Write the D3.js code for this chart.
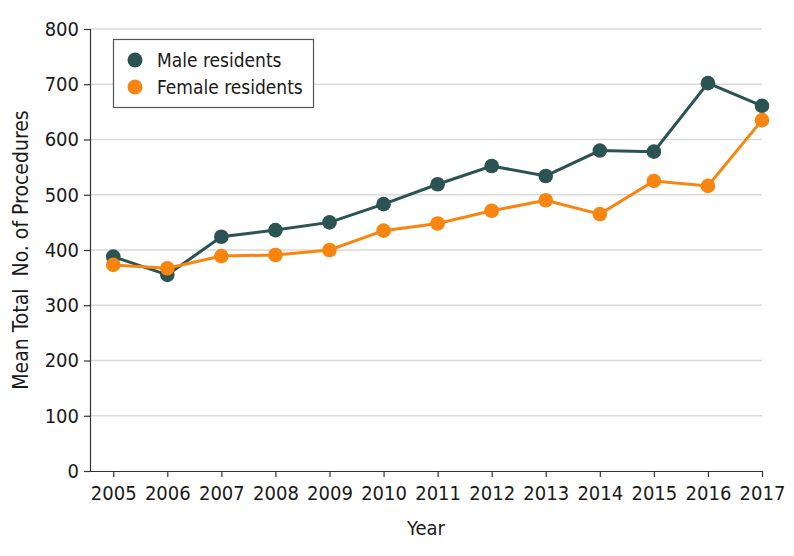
<!DOCTYPE html>
<html>
<head>
<meta charset="utf-8">
<script src="https://cdn.jsdelivr.net/npm/d3@7"></script>
<style>
  html, body { margin: 0; padding: 0; background: #fff; }
  svg { display: block; }
  text { font-family: "DejaVu Sans Condensed", "DejaVu Sans", sans-serif; fill: #1a1a1a; }
</style>
</head>
<body>
<svg id="chart" width="794" height="556"></svg>
<script>
const years = [2005, 2006, 2007, 2008, 2009, 2010, 2011, 2012, 2013, 2014, 2015, 2016, 2017];
const maleValues = [388, 355, 424, 436, 450, 483, 519, 552, 534, 580, 578, 702, 661];
const femaleValues = [373, 367, 389, 391, 400, 435, 448, 471, 490, 465, 525, 516, 635];
const yTicks = [0, 100, 200, 300, 400, 500, 600, 700, 800];
const seriesNames = ["Male residents", "Female residents"];
const seriesColors = ["#2a5351", "#f7850f"];

const svg = d3.select("#chart");
const plotLeft = 90, plotRight = 762, plotTop = 29, plotBottom = 471;

const x = d3.scaleLinear().domain([2004.57, 2017]).range([plotLeft, plotRight]);
const y = d3.scaleLinear().domain([0, 800]).range([plotBottom, plotTop]);

// gridlines
svg.append("g").selectAll("line").data(yTicks.filter(d => d > 0)).join("line")
  .attr("x1", plotLeft).attr("x2", plotRight)
  .attr("y1", d => y(d)).attr("y2", d => y(d))
  .attr("stroke", "#d9d9d9").attr("stroke-width", 1.5);

// y axis
const yAxis = svg.append("g").attr("transform", `translate(${plotLeft},0)`)
  .call(d3.axisLeft(y).tickValues(yTicks).tickSize(6).tickPadding(5));
yAxis.select(".domain").attr("stroke", "#333").attr("stroke-width", 1.2);
yAxis.selectAll(".tick line").attr("stroke", "#333").attr("stroke-width", 1.2);
yAxis.selectAll(".tick text").style("font-size", "20px").attr("fill", "#1a1a1a");

// x axis
const xAxis = svg.append("g").attr("transform", `translate(0,${plotBottom})`)
  .call(d3.axisBottom(x).tickValues(years).tickFormat(d3.format("d")).tickSize(6).tickPadding(9).tickSizeOuter(0));
xAxis.select(".domain").attr("stroke", "#333").attr("stroke-width", 1.2);
xAxis.selectAll(".tick line").attr("stroke", "#333").attr("stroke-width", 1.2);
xAxis.selectAll(".tick text").style("font-size", "20px").attr("fill", "#1a1a1a");

// axis titles
svg.append("text")
  .attr("x", (plotLeft + plotRight) / 2).attr("y", 535)
  .attr("text-anchor", "middle").style("font-size", "20px")
  .text("Year");
svg.append("text")
  .attr("transform", `translate(28,250) rotate(-90)`)
  .attr("text-anchor", "middle").style("font-size", "21px")
  .style("white-space", "pre")
  .text("Mean Total  No. of Procedures");

// series
const series = [maleValues, femaleValues];
const line = d3.line().x((d, i) => x(years[i])).y(d => y(d));
series.forEach((vals, s) => {
  const g = svg.append("g");
  g.append("path").datum(vals)
    .attr("d", line).attr("fill", "none")
    .attr("stroke", seriesColors[s]).attr("stroke-width", 3);
  g.selectAll("circle").data(vals).join("circle")
    .attr("cx", (d, i) => x(years[i])).attr("cy", d => y(d))
    .attr("r", 7.3).attr("fill", seriesColors[s]);
});

// legend
const lg = svg.append("g");
lg.append("rect").attr("x", 113.5).attr("y", 39.5).attr("width", 200).attr("height", 68)
  .attr("fill", "#fff").attr("stroke", "#555").attr("stroke-width", 1.2);
seriesNames.forEach((name, i) => {
  lg.append("circle").attr("cx", 135).attr("cy", 60 + i * 27).attr("r", 7.5).attr("fill", seriesColors[i]);
  lg.append("text").attr("x", 157).attr("y", 60 + i * 27).attr("dy", "0.36em")
    .style("font-size", "19px").text(name);
});
</script>
</body>
</html>
